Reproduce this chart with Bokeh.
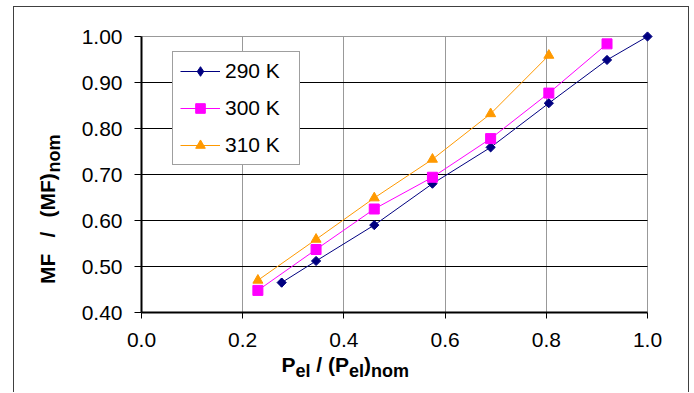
import numpy as np
from bokeh.plotting import figure
from bokeh.models import (Range1d, FixedTicker, Label, Legend, LegendItem,
                          NumeralTickFormatter, Grid)
from bokeh.embed import file_html
from bokeh.resources import INLINE

# ---------------- data ----------------
series_names = ["290 K", "300 K", "310 K"]
x_290 = [0.277, 0.345, 0.460, 0.575, 0.690, 0.805, 0.920, 1.000]
mf_290 = [0.465, 0.512, 0.590, 0.680, 0.759, 0.855, 0.949, 1.000]
x_300 = [0.230, 0.345, 0.460, 0.575, 0.690, 0.805, 0.920]
mf_300 = [0.448, 0.537, 0.625, 0.694, 0.778, 0.877, 0.984]
x_310 = [0.230, 0.345, 0.460, 0.575, 0.690, 0.805]
mf_310 = [0.470, 0.559, 0.649, 0.733, 0.832, 0.959]
x_ticks = [0.0, 0.2, 0.4, 0.6, 0.8, 1.0]
y_ticks = [0.40, 0.50, 0.60, 0.70, 0.80, 0.90, 1.00]
X_MIN, X_MAX = 0.0, 1.0
Y_MIN, Y_MAX = 0.4, 1.0

NAVY = "#000080"
MAGENTA = "#FF00FF"
ORANGE = "#FF9900"
FONT = "Liberation Sans"

# canvas and the pixel box of the data area inside it
W, H = 676, 386
PL, PR, PT, PB = 127, 633, 29, 305
kx = (PR - PL) / (X_MAX - X_MIN)
ky = (PB - PT) / (Y_MAX - Y_MIN)
x_range = Range1d(X_MIN - PL / kx, X_MAX + (W - PR) / kx)
y_range = Range1d(Y_MIN - (H - PB) / ky, Y_MAX + PT / ky)

p = figure(width=W, height=H, x_range=x_range, y_range=y_range,
           output_backend="svg", toolbar_location=None,
           min_border_left=0, min_border_right=0,
           min_border_top=0, min_border_bottom=0)
p.title.visible = False
p.styles = {"border-left": "1px solid #404040", "border-top": "1px solid #404040",
            "border-right": "1px solid #404040", "margin-left": "13px",
            "margin-top": "6px"}
p.background_fill_color = "white"
p.border_fill_color = "white"
p.outline_line_color = None

# axes, drawn at the data-area edges
for ax in (p.xaxis[0], p.yaxis[0]):
    ax.axis_line_color = "black"
    ax.axis_line_width = 2
    ax.major_tick_line_color = "black"
    ax.major_tick_line_width = 1
    ax.major_tick_in = 0
    ax.minor_tick_line_color = None
    ax.major_label_text_font = FONT
    ax.major_label_text_font_size = "21px"
    ax.major_label_text_color = "black"
p.xaxis.ticker = FixedTicker(ticks=x_ticks)
p.yaxis.ticker = FixedTicker(ticks=y_ticks)
p.xaxis.formatter = NumeralTickFormatter(format="0.0")
p.yaxis.formatter = NumeralTickFormatter(format="0.00")
p.xaxis.fixed_location = Y_MIN
p.yaxis.fixed_location = X_MIN
p.xaxis.bounds = (X_MIN, X_MAX)
p.yaxis.bounds = (Y_MIN, Y_MAX)
p.xaxis.major_tick_out = 6
p.yaxis.major_tick_out = 7
p.xaxis.major_label_standoff = 14
p.yaxis.major_label_standoff = 12

# grids
p.xgrid.ticker = FixedTicker(ticks=x_ticks[1:])
p.xgrid.grid_line_color = "#999999"
p.xgrid.grid_line_width = 1
p.xgrid.cross_bounds = (Y_MIN, Y_MAX)
p.ygrid.ticker = FixedTicker(ticks=y_ticks[1:-1])
p.ygrid.grid_line_color = "black"
p.ygrid.grid_line_width = 1
p.ygrid.cross_bounds = (X_MIN, X_MAX)
top_edge = Grid(dimension=1, ticker=FixedTicker(ticks=[Y_MAX]),
                grid_line_color="#999999", grid_line_width=1,
                cross_bounds=(X_MIN, X_MAX))
p.add_layout(top_edge)

# series
l1 = p.line(x_290, mf_290, line_color=NAVY, line_width=1)
m1 = p.scatter(x_290, mf_290, marker="square", angle=np.pi / 4, size=6.5,
               fill_color=NAVY, line_color=NAVY)
# diamond symbol used for the legend entry (sits inside the first rotated square)
k1 = p.scatter(x_290[:1], mf_290[:1], marker="diamond", size=9,
               fill_color=NAVY, line_color=NAVY)
l2 = p.line(x_300, mf_300, line_color=MAGENTA, line_width=1)
m2 = p.scatter(x_300, mf_300, marker="square", size=10,
               fill_color=MAGENTA, line_color=MAGENTA)
l3 = p.line(x_310, mf_310, line_color=ORANGE, line_width=1)
m3 = p.scatter(x_310, mf_310, marker="triangle", size=10,
               fill_color=ORANGE, line_color=ORANGE)

legend = Legend(items=[LegendItem(label=series_names[0], renderers=[l1, k1]),
                       LegendItem(label=series_names[1], renderers=[l2, m2]),
                       LegendItem(label=series_names[2], renderers=[l3, m3])],
                location=(PL + 31, (H - PB) + 147), orientation="vertical")
legend.border_line_color = "#404040"
legend.border_line_width = 1
legend.background_fill_color = "white"
legend.background_fill_alpha = 1
legend.label_text_font = FONT
legend.label_text_font_size = "21px"
legend.label_text_color = "black"
legend.padding = 7
legend.spacing = 13
legend.margin = 0
legend.glyph_height = 24
legend.glyph_width = 40
legend.label_height = 24
legend.label_width = 67
legend.label_standoff = 5
p.add_layout(legend)

# ---------------- axis titles with subscripts ----------------
MAIN, SUB = 21, 18
ADV = {"P": 0.667, "e": 0.556, "l": 0.278, " ": 0.278, "/": 0.278, "(": 0.333,
       ")": 0.333, "n": 0.611, "o": 0.611, "m": 0.889, "M": 0.833, "F": 0.611}
SHIFT = 0.43  # renderer places the baseline this fraction of the size lower


def adv(s, size):
    return sum(ADV[c] for c in s) * size


def add_text(txt, cx, cy, size, angle=0.0):
    # cx, cy: canvas pixels from the top-left corner (baseline start of the text)
    p.add_layout(Label(x=cx, y=H - cy, x_units="screen", y_units="screen",
                       text=txt, text_font=FONT, text_font_style="bold",
                       text_font_size=f"{size}px", text_color="black",
                       angle=angle, text_align="left",
                       text_baseline="alphabetic"))


# x title: P_el / (P_el)_nom  -- pieces laid out one after the other
XB, DROP = 365.7, 5.5
x_pieces = [("P", False, 0.0), ("el", True, 0.0), ("/", False, adv(" ", MAIN)),
            ("(P", False, adv(" ", MAIN)), ("el", True, 0.0), (")", False, 0.0),
            ("nom", True, 0.0)]
cx = 267.0
for txt, sub, gap in x_pieces:
    size = SUB if sub else MAIN
    cx += gap
    base = XB + (DROP if sub else 0.0) - SHIFT * size
    add_text(txt, cx, base, size)
    cx += adv(txt, size)

# y title: MF / (MF)_nom  (rotated, reading upward)
YB = 42.0
y_pieces = [("MF", False, 276.5), ("/", False, 230.0), ("(MF)", False, 210.0),
            ("nom", True, 165.0)]
for txt, sub, cy in y_pieces:
    size = SUB if sub else MAIN
    base = YB + (DROP if sub else 0.0) - SHIFT * size
    add_text(txt, base, cy, size, np.pi / 2)

open("out.html", "w").write(file_html(p, INLINE))
